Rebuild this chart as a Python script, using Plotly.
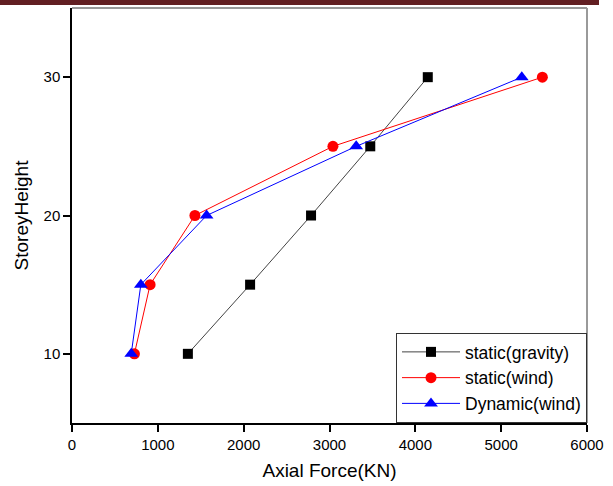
import plotly.graph_objects as go

storey = [10, 15, 20, 25, 30]
static_gravity = [1350, 2075, 2785, 3475, 4145]
static_wind = [727, 910, 1432, 3040, 5480]
dynamic_wind = [690, 802, 1568, 3311, 5240]

fig = go.Figure()
fig.add_trace(go.Scatter(x=static_gravity, y=storey, name="static(gravity)", mode="lines+markers",
                         line=dict(color="#444444", width=1),
                         marker=dict(symbol="square", size=10, color="black")))
fig.add_trace(go.Scatter(x=static_wind, y=storey, name="static(wind)", mode="lines+markers",
                         line=dict(color="red", width=1),
                         marker=dict(symbol="circle", size=11, color="red")))
fig.add_trace(go.Scatter(x=dynamic_wind, y=storey, name="Dynamic(wind)", mode="lines+markers",
                         line=dict(color="blue", width=1),
                         marker=dict(symbol="triangle-up", size=12, color="blue")))

W, H = 613, 486
l, r, t, b = 72, 26, 8, 61
pw = W - l - r
ph = H - t - b

fig.update_layout(
    width=W, height=H,
    margin=dict(l=l, r=r, t=t, b=b),
    paper_bgcolor="white", plot_bgcolor="white",
    font=dict(family="Liberation Sans, Arial", color="black"),
    showlegend=True,
    legend=dict(x=1, y=0, xanchor="right", yanchor="bottom",
                bordercolor="#333333", borderwidth=1, bgcolor="white",
                font=dict(size=17.5), tracegroupgap=0, itemwidth=58),
    xaxis=dict(range=[0, 6000], tickvals=[0, 1000, 2000, 3000, 4000, 5000, 6000],
               showgrid=False, zeroline=False, showline=True, linecolor="black", linewidth=1.5,
               ticks="outside", ticklen=7, tickwidth=1.5, tickcolor="black",
               tickfont=dict(size=15),
               title=dict(text="Axial Force(KN)", font=dict(size=19), standoff=12)),
    yaxis=dict(range=[5, 35], tickvals=[10, 20, 30],
               showgrid=False, zeroline=False, showline=True, linecolor="black", linewidth=1.5,
               ticks="outside", ticklen=7, tickwidth=1.5, tickcolor="black",
               tickfont=dict(size=15),
               title=dict(text="StoreyHeight", font=dict(size=19), standoff=10)),
    shapes=[
        dict(type="line", xref="paper", yref="paper", x0=0, x1=1, y0=1, y1=1,
             line=dict(color="#9a9a9a", width=2)),
        dict(type="line", xref="paper", yref="paper", x0=1, x1=1, y0=0, y1=1,
             line=dict(color="#9a9a9a", width=2)),
        dict(type="rect", xref="paper", yref="paper",
             x0=-l / pw, x1=(599 - l) / pw, y0=1 + 3 / ph, y1=1 + 9 / ph,
             line=dict(width=0), fillcolor="#621f22"),
    ],
)

fig.write_html("out.html", config={"displayModeBar": False},
               post_script="document.body.style.margin='0';")
